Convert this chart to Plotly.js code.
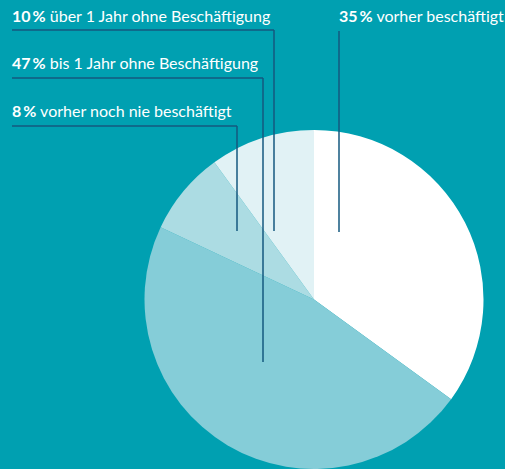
<!DOCTYPE html>
<html>
<head>
<meta charset="utf-8">
<script src="https://cdn.plot.ly/plotly-3.0.1.min.js"></script>
<style>html,body{margin:0;padding:0;background:#00a0b1;}</style>
</head>
<body>
<div id="chart" style="width:505px;height:469px;"></div>
<script>
const labels = ['vorher beschäftigt', 'bis 1 Jahr ohne Beschäftigung', 'vorher noch nie beschäftigt', 'über 1 Jahr ohne Beschäftigung'];
const values = [35, 47, 8, 10];
const colors = ['#ffffff', '#85cdd8', '#acdce3', '#e1f2f5'];

const W = 505, H = 469;
const px = (x) => x / W;
const py = (y) => 1 - y / H;

// callout layout: label position, underline, leader end
const callouts = [
  {i:0, tx:339, ty:15, ux0:339, ux1:505, uy:31, lx:339, ly:232},
  {i:1, tx:12, ty:63, ux0:12, ux1:263, uy:78, lx:263, ly:362},
  {i:2, tx:12, ty:111, ux0:12, ux1:237, uy:126, lx:237, ly:231},
  {i:3, tx:12, ty:15, ux0:12, ux1:274, uy:30, lx:274, ly:231}
];

const lineCol = '#15597f';
const shapes = [];
const annotations = [];
callouts.forEach(c => {
  shapes.push({type:'line', xref:'paper', yref:'paper', x0:px(c.ux0), x1:px(c.lx), y0:py(c.uy), y1:py(c.uy), line:{color:lineCol, width:1.5}});
  shapes.push({type:'line', xref:'paper', yref:'paper', x0:px(c.lx), x1:px(c.lx), y0:py(c.uy), y1:py(c.ly), line:{color:lineCol, width:1.5}});
  annotations.push({xref:'paper', yref:'paper', x:px(c.tx), y:py(c.ty), xanchor:'left', yanchor:'middle', xshift:-2, showarrow:false,
    text:'<b>' + values[c.i] + '\u2009%</b> ' + labels[c.i], font:{family:'Lato', size:16, color:'#ffffff'}});
});

Plotly.newPlot('chart', [{
  type:'pie', labels, values, sort:false, direction:'clockwise', rotation:0,
  marker:{colors, line:{width:0}}, textinfo:'none', hoverinfo:'label+percent',
  domain:{x:[px(144.5), px(483.5)], y:[0, 339/H]}
}], {
  width:W, height:H, margin:{l:0, r:0, t:0, b:0}, showlegend:false,
  paper_bgcolor:'#00a0b1', plot_bgcolor:'#00a0b1',
  shapes, annotations
}, {displayModeBar:false});
</script>
</body>
</html>
